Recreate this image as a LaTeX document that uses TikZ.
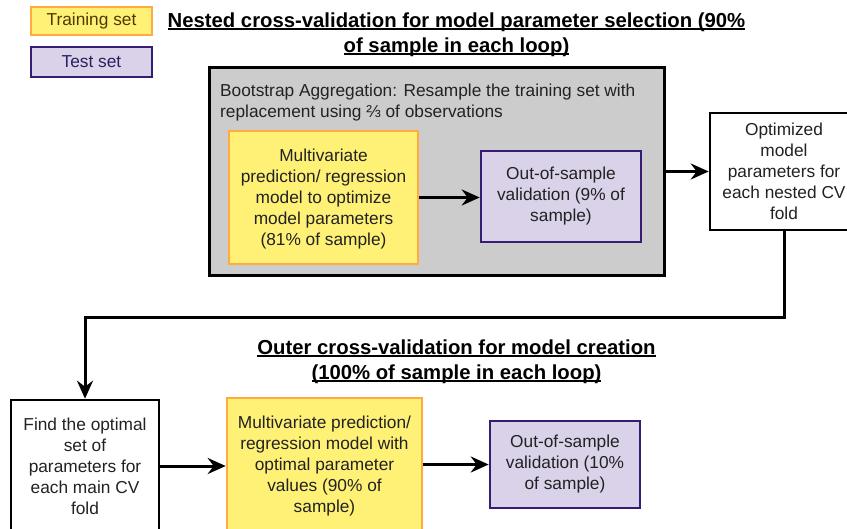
\documentclass[tikz,border=0pt]{standalone}
\usepackage{fontspec}
\setmainfont{Liberation Sans}
\usetikzlibrary{arrows.meta}

\definecolor{trainfill}{HTML}{FFF176}
\definecolor{trainline}{HTML}{FFAB40}
\definecolor{testfill}{HTML}{D9D2E9}
\definecolor{testline}{HTML}{351C75}
\definecolor{bagfill}{HTML}{CCCCCC}
\definecolor{ink}{HTML}{222222}
\definecolor{trainink}{HTML}{4D3B00}
\definecolor{testink}{HTML}{2B2060}

% thick underline for the section headings
\newcommand\headul[1]{\setbox0\hbox{#1}\rlap{\rule[-3bp]{\wd0}{1.8bp}}\box0}

\tikzset{
  body/.style={font=\fontsize{17.3bp}{21bp}\selectfont, text=ink, align=center},
  trainbox/.style={body, draw=trainline, fill=trainfill, line width=2.6bp, inner sep=0pt},
  testbox/.style={body, draw=testline, fill=testfill, line width=2.6bp, inner sep=0pt},
  plainbox/.style={body, draw=black, fill=white, line width=2.6bp, inner sep=0pt},
  heading/.style={font=\fontsize{20.3bp}{25bp}\selectfont\bfseries, text=black, align=center},
  arr/.style={draw=black, line width=3bp, -{Stealth[length=18bp,width=16bp,inset=6bp]}},
}

\begin{document}
\begin{tikzpicture}[x=1bp,y=-1bp]
\useasboundingbox (0,0) rectangle (847,529);

% legend
\node[trainbox, text=trainink, minimum width=121bp, minimum height=28bp] (legtrain) at (91.5,21) {Training set};
\node[testbox, text=testink, minimum width=121bp, minimum height=30bp] (legtest) at (91.5,62) {Test set};

% heading of the nested loop
\node[heading] (headnested) at (456.5,34.5)
  {\headul{Nested cross-validation for model parameter selection (90\%}\\
   \headul{of sample in each loop)}};

% bootstrap aggregation frame
\node[draw=black, fill=bagfill, line width=3bp, minimum width=455bp, minimum height=207bp, inner sep=0pt] (bag) at (436.5,171.5) {};
\node[body, align=left, anchor=west, inner sep=0pt] (bagtext) at (220,102.5)
  {Bootstrap Aggregation: Resample the training set with\\
   replacement using ⅔ of observations};

\node[trainbox, minimum width=189bp, minimum height=133bp, text depth=0pt] (innermodel) at (323.5,197.5)
  {Multivariate\\prediction/ regression\\model to optimize\\model parameters\\(81\% of sample)};
\node[testbox, minimum width=160bp, minimum height=91bp] (innerval) at (561,196.5)
  {Out-of-sample\\validation (9\% of\\sample)};

\node[plainbox, minimum width=148bp, minimum height=117bp] (optim) at (784,171.5)
  {Optimized\\model\\parameters for\\each nested CV\\fold};

% heading of the outer loop
\node[heading] (headouter) at (456.5,361.5)
  {\headul{Outer cross-validation for model creation}\\
   \headul{(100\% of sample in each loop)}};

\node[plainbox, minimum width=148bp, minimum height=132bp] (findopt) at (85,466)
  {Find the optimal\\set of\\parameters for\\each main CV\\fold};
\node[trainbox, minimum width=195bp, minimum height=136bp] (outermodel) at (324.5,466)
  {Multivariate prediction/\\regression model with\\optimal parameter\\values (90\% of\\sample)};
\node[testbox, minimum width=150bp, minimum height=87bp] (outerval) at (565,464.5)
  {Out-of-sample\\validation (10\%\\of sample)};

% connectors
\draw[arr] (innermodel.east) -- (innerval.west |- innermodel.east);
\draw[arr] (bag.east |- optim.west) -- (optim.west);
\draw[arr] (optim.south) -- ++(0,86) -| (findopt.north);
\draw[arr] (findopt.east) -- (outermodel.west);
\draw[arr] (outermodel.east |- outerval.west) -- (outerval.west);
\end{tikzpicture}
\end{document}
